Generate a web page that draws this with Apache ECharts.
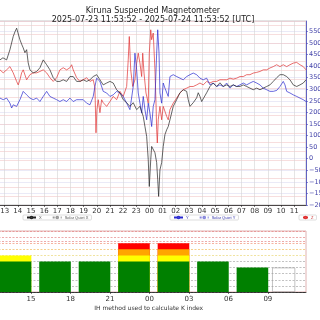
<!DOCTYPE html>
<html>
<head>
<meta charset="utf-8">
<script src="https://cdn.jsdelivr.net/npm/echarts@6/dist/echarts.min.js"></script>
<style>
html,body{margin:0;padding:0;background:#fff}
#main{width:320px;height:320px}
</style>
</head>
<body>
<div id="main"></div>
<script>
// hours counted from 2025-07-23 00:00 UTC, values read on the right (nT) axis
var xHours = [12.64,12.87,13.15,13.40,13.65,13.78,13.91,14.01,14.16,14.31,14.41,14.54,14.67,14.79,14.92,15.17,15.43,15.68,15.93,16.19,16.44,16.69,16.95,17.20,17.45,17.71,17.96,18.21,18.47,18.72,18.97,19.23,19.48,19.73,19.99,20.24,20.49,20.75,21.00,21.25,21.51,21.76,22.01,22.27,22.52,22.77,23.03,23.28,23.53,23.66,23.79,23.91,23.97,23.99,24.10,24.17,24.29,24.42,24.55,24.63,24.70,24.80,24.93,25.05,25.18,25.31,25.43,25.56,25.81,26.07,26.32,26.57,26.83,26.95,27.08,27.21,27.33,27.46,27.59,27.71,27.84,27.97,28.09,28.35,28.60,28.85,29.11,29.36,29.61,29.87,30.12,30.37,30.63,30.88,31.13,31.39,31.64,31.89,32.15,32.40,32.65,32.91,33.16,33.41,33.67,33.92,34.17,34.43,34.68,34.93,35.19,35.44,35.69,35.90];
var xValues = [427,436,427,471,528,548,564,544,514,492,479,458,471,414,384,371,377,393,427,406,384,350,334,334,341,334,355,355,334,334,341,334,341,355,363,341,319,327,334,327,298,285,255,242,226,242,212,226,183,139,96,-4,-91,-120,-4,53,60,26,-17,-91,-163,-48,-17,53,104,125,139,168,226,255,285,298,291,255,226,220,242,247,263,285,269,247,242,285,312,327,312,328,312,319,312,319,312,312,319,312,305,298,305,298,305,312,319,334,350,363,363,355,341,319,312,319,327,341];

var yHours = [12.64,12.89,13.15,13.40,13.53,13.65,13.91,14.16,14.41,14.67,14.92,15.17,15.43,15.68,15.93,16.19,16.44,16.69,16.95,17.20,17.45,17.71,17.96,18.21,18.47,18.72,18.97,19.23,19.48,19.73,19.86,19.99,20.24,20.49,20.75,21.00,21.25,21.51,21.76,22.01,22.27,22.52,22.77,22.90,23.03,23.15,23.28,23.41,23.53,23.66,23.79,23.91,24.04,24.17,24.29,24.42,24.55,24.63,24.73,24.80,24.93,25.05,25.18,25.31,25.43,25.56,25.81,26.07,26.32,26.57,26.83,27.08,27.33,27.59,27.84,28.09,28.35,28.60,28.85,29.11,29.36,29.61,29.87,30.12,30.37,30.63,30.88,31.13,31.39,31.64,31.89,32.15,32.40,32.65,32.91,33.16,33.41,33.67,33.92,34.17,34.30,34.43,34.68,34.93,35.19,35.44,35.69,35.90];
var yValues = [262,255,262,240,219,233,226,255,291,276,262,255,262,247,269,291,269,262,255,247,255,247,262,247,255,255,255,240,233,269,312,348,334,291,284,269,276,291,284,269,240,212,312,456,384,284,240,197,269,212,168,240,197,139,226,255,456,557,456,284,240,327,305,312,269,355,363,355,348,341,355,363,370,363,348,341,348,319,327,312,319,312,327,305,319,312,319,327,319,327,334,327,319,305,298,291,291,295,312,334,319,291,284,276,269,262,255,247];

var zHours = [12.64,12.89,13.15,13.40,13.65,13.91,14.03,14.16,14.29,14.41,14.67,14.92,15.17,15.43,15.68,15.93,16.19,16.44,16.69,16.95,17.20,17.45,17.71,17.96,18.09,18.21,18.47,18.72,18.97,19.23,19.48,19.73,19.86,19.94,20.01,20.11,20.24,20.37,20.49,20.75,21.00,21.25,21.51,21.76,22.01,22.27,22.39,22.47,22.58,22.73,22.90,23.03,23.15,23.28,23.41,23.49,23.59,23.74,23.91,23.99,24.10,24.17,24.29,24.42,24.50,24.55,24.60,24.67,24.80,24.93,25.05,25.31,25.43,25.56,25.81,26.07,26.32,26.57,26.83,27.08,27.33,27.59,27.84,28.09,28.35,28.60,28.85,29.11,29.36,29.61,29.87,30.12,30.37,30.63,30.88,31.13,31.39,31.64,31.89,32.15,32.40,32.65,32.91,33.16,33.41,33.67,33.92,34.17,34.43,34.68,34.93,35.19,35.29,35.44,35.69,35.90];
var zValues = [384,371,384,398,371,334,319,341,371,384,341,363,371,371,377,384,371,350,334,350,384,393,384,393,406,384,350,334,341,350,334,341,306,112,212,255,199,255,242,226,247,269,255,291,269,312,427,528,384,312,341,413,456,413,355,456,370,284,240,456,557,514,543,384,240,125,68,168,226,168,226,183,168,212,240,262,284,298,305,312,312,319,327,319,334,327,334,334,341,341,341,348,344,348,355,355,363,363,370,373,377,384,384,392,398,406,398,406,398,406,413,416,420,406,398,384];

// K index, one value per 3-hour interval (interval centre in hours)
var kHours = [13.5,16.5,19.5,22.5,25.5,28.5,31.5];
var kIndex = [6,5,5,8,8,5,4];
// unfinished last interval, drawn as an outline only
var kOpenHours = [34.2];
var kOpen = [4];

var title1 = 'Kiruna Suspended Magnetometer';
var title2 = '2025-07-23 11:53:52 - 2025-07-24 11:53:52 [UTC]';

function pairs(h, v) {
    return h.map(function (t, i) { return [t, v[i]]; });
}
function hourLabel(v) {
    var h = Math.round(v) % 24;
    return (h < 10 ? '0' : '') + h;
}
// bar height up to level 'top' if the K index passes 'from', else nothing
function band(from, top) {
    return kHours.map(function (t, i) {
        var k = kIndex[i];
        return [t, k > from ? Math.min(k, top) : 0];
    });
}

var myChart = echarts.init(document.getElementById('main'));

var legendBase = {
    orient: 'horizontal',
    top: 215,
    itemWidth: 9,
    itemHeight: 2,
    itemGap: 10,
    padding: [0.5, 3],
    borderColor: '#c8c8c8',
    borderWidth: 0.6,
    borderRadius: 1,
    backgroundColor: '#fff',
    textStyle: {fontSize: 4, color: '#555', padding: [0, 0, 0, -2]}
};

var kBar = {type: 'bar', xAxisIndex: 1, yAxisIndex: 2, barWidth: 31.6, barGap: '-100%'};

var option = {
    animation: false,
    backgroundColor: '#fff',
    title: {
        text: title1 + '\n' + title2,
        left: 148,
        top: 1,
        textAlign: 'center',
        textStyle: {fontSize: 8, fontWeight: 'normal', color: '#222', lineHeight: 9, fontFamily: 'DejaVu Sans'}
    },
    legend: [
        Object.assign({}, legendBase, {left: 23, data: ['X', 'Solar Quiet X']}),
        Object.assign({}, legendBase, {left: 170, data: ['Y', 'Solar Quiet Y'],
            textStyle: {fontSize: 4, color: '#3333aa', padding: [0, 0, 0, -2]}}),
        Object.assign({}, legendBase, {left: 299, itemWidth: 5, data: ['Z'],
            textStyle: {fontSize: 4, color: '#cc3333', padding: [0, 0, 0, -2]}})
    ],
    grid: [
        {left: -8.5, right: 14, top: 21, height: 184, outerBoundsMode: 'none', containLabel: false,
            show: true, borderColor: '#bbb', borderWidth: 0.8, backgroundColor: '#fff'},
        {left: -8.5, right: 14, top: 231, height: 61, outerBoundsMode: 'none', containLabel: false,
            show: true, borderColor: '#d8a0a0', borderWidth: 0.8}
    ],
    xAxis: [
        {
            type: 'value', gridIndex: 0, min: 12, max: 35.898, interval: 1,
            axisLine: {onZero: false, lineStyle: {color: '#222', width: 0.8}},
            axisTick: {length: 2, lineStyle: {color: '#222', width: 0.6}},
            axisLabel: {formatter: hourLabel, fontSize: 7, color: '#333', margin: 3, fontFamily: 'DejaVu Sans', showMaxLabel: false},
            splitLine: {show: true, lineStyle: {color: '#d4d4d4', width: 0.6}}
        },
        {
            type: 'value', gridIndex: 1, min: 12, max: 35.898, interval: 3,
            axisLine: {onZero: false, lineStyle: {color: '#222', width: 0.8}},
            axisTick: {length: 2, lineStyle: {color: '#222', width: 0.6}},
            axisLabel: {formatter: hourLabel, fontSize: 7, color: '#333', margin: 4, fontFamily: 'DejaVu Sans', showMaxLabel: false},
            splitLine: {show: false},
            name: 'IH method used to calculate K index',
            nameLocation: 'middle',
            nameGap: 13,
            nameTextStyle: {fontSize: 6, color: '#333', fontFamily: 'DejaVu Sans'}
        }
    ],
    yAxis: [
        {
            type: 'value', gridIndex: 0, position: 'right', min: -200, max: 595, interval: 50,
            axisLine: {show: true, lineStyle: {color: '#4444bb', width: 0.8}},
            axisTick: {show: true, length: 2, lineStyle: {color: '#4444bb', width: 0.6}},
            axisLabel: {
                fontSize: 6.5, color: '#4444aa', margin: 3, fontFamily: 'DejaVu Sans', showMaxLabel: false,
                formatter: function (v) { return String(v).replace('-', '\u2212'); }
            },
            splitLine: {show: true, lineStyle: {color: '#dcdcf2', width: 0.6}}
        },
        {
            type: 'value', gridIndex: 0, position: 'left', min: -230, max: 590, interval: 40,
            axisLine: {show: false}, axisTick: {show: false}, axisLabel: {show: false},
            splitLine: {show: true, lineStyle: {color: '#f2c8c8', width: 0.6}}
        },
        {
            type: 'value', gridIndex: 1, min: 0, max: 10, interval: 1,
            axisLine: {show: false}, axisTick: {show: false}, axisLabel: {show: false},
            splitLine: {show: true, lineStyle: {type: [2, 1.5], width: 0.6,
                color: ['#222', '#999', '#999', '#999', '#999', '#999', '#e6d060', '#f0b040', '#f08060', '#e07070', '#e07070']}}
        }
    ],
    series: [
        {name: 'X', type: 'line', xAxisIndex: 0, yAxisIndex: 0, data: pairs(xHours, xValues), showSymbol: false,
            lineStyle: {color: '#222', width: 0.7}, itemStyle: {color: '#222'}, z: 4},
        {name: 'Y', type: 'line', xAxisIndex: 0, yAxisIndex: 0, data: pairs(yHours, yValues), showSymbol: false,
            lineStyle: {color: '#2a2ad0', width: 0.7}, itemStyle: {color: '#2a2ad0'}, z: 3},
        {name: 'Z', type: 'line', xAxisIndex: 0, yAxisIndex: 0, data: pairs(zHours, zValues), showSymbol: false,
            lineStyle: {color: '#e03030', width: 0.7}, itemStyle: {color: '#e03030'}, z: 2},
        {name: 'Solar Quiet X', type: 'line', xAxisIndex: 0, yAxisIndex: 0, data: [], showSymbol: false,
            lineStyle: {color: '#999', width: 0.6, type: 'dotted'}, itemStyle: {color: '#999'}},
        {name: 'Solar Quiet Y', type: 'line', xAxisIndex: 0, yAxisIndex: 0, data: [], showSymbol: false,
            lineStyle: {color: '#8888dd', width: 0.6, type: 'dotted'}, itemStyle: {color: '#8888dd'}},
        Object.assign({name: 'K red', data: band(7, 9), itemStyle: {color: '#ff0000'},
            markLine: {silent: true, symbol: 'none', label: {show: false},
                lineStyle: {color: '#e07070', type: [2, 1.5], width: 0.6}, data: [{yAxis: 8.4}]}}, kBar),
        Object.assign({name: 'K orange', data: band(6, 7), itemStyle: {color: '#ffa500'}}, kBar),
        Object.assign({name: 'K yellow', data: band(5, 6), itemStyle: {color: '#ffff00'}}, kBar),
        Object.assign({name: 'K green', data: band(0, 5), itemStyle: {color: '#008000'}}, kBar),
        {name: 'K open', type: 'bar', xAxisIndex: 1, yAxisIndex: 2, barWidth: 23, barGap: '-100%',
            data: pairs(kOpenHours, kOpen), itemStyle: {color: 'transparent', borderColor: '#999', borderWidth: 0.6}}
    ]
};

myChart.setOption(option);

window.onresize = function () {
    myChart.resize();
};
</script>
</body>
</html>
